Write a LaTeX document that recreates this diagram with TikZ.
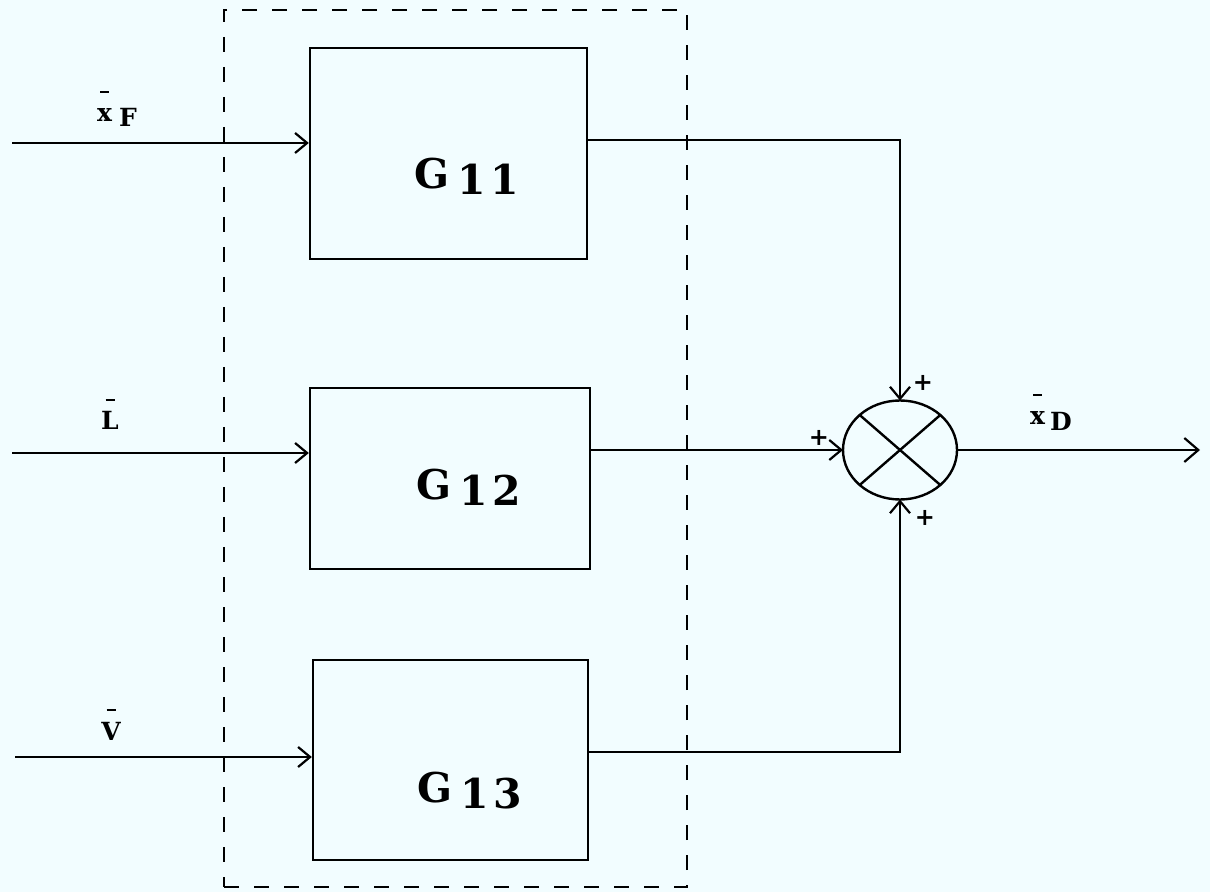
\documentclass[tikz,border=0pt]{standalone}
\usepackage{fontspec}
\newfontfamily\slab{DejaVu Serif}
\usetikzlibrary{arrows.meta,shapes.geometric}
\definecolor{paper}{RGB}{242,253,255}
% letter with a short bar over it
\newcommand\barred[1]{\setbox0\hbox{#1}\rlap{\hbox to \wd0{\hss\raisebox{14.5pt}{\rule{4.5pt}{1.1pt}}\hss}}\box0}
\begin{document}
\begin{tikzpicture}[x=0.5pt,y=-0.5pt,line width=1.1pt,
  blockbox/.style={draw,rectangle,line width=1.2pt,inner sep=0pt},
  gname/.style={font=\slab\bfseries\fontsize{20.5}{20.5}\selectfont,anchor=base,inner sep=0pt},
  sig/.style={font=\slab\bfseries\fontsize{12.5}{12.5}\selectfont,inner sep=0pt},
  sgn/.style={font=\slab\bfseries\fontsize{12}{12}\selectfont,inner sep=0pt},
  grp/.style={draw,rectangle,line width=0.8pt,dash pattern=on 7.5pt off 7.5pt,inner sep=0pt},
  summer/.style={draw,ellipse,line width=1.2pt,inner sep=0pt,outer sep=0pt,minimum width=57pt,minimum height=49.5pt},
  flow/.style={-{Straight Barb[length=6pt,width=10pt]},line width=1.1pt},
  outflow/.style={-{Straight Barb[length=7pt,width=12pt]},line width=1.1pt}]

\fill[paper] (0,0) rectangle (1210,892);
\useasboundingbox (0,0) rectangle (1210,892);

% dashed grouping frame
\node[grp,minimum width=231.5pt,minimum height=438.5pt] (frame) at (455.5,448.5) {};

% transfer blocks
\node[blockbox,minimum width=138.5pt,minimum height=105.5pt] (G11) at (448.5,153.5) {};
\node[blockbox,minimum width=140pt,minimum height=90.5pt] (G12) at (450,478.5) {};
\node[blockbox,minimum width=137.5pt,minimum height=100pt] (G13) at (450.5,760) {};

\node[gname] (t11) at (467,189) {G\kern4pt\raisebox{-3pt}{1\kern2pt1}};
\node[gname] (t12) at (469,500) {G\kern4pt\raisebox{-3pt}{1\kern2pt2}};
\node[gname] (t13) at (470,802) {G\kern4pt\raisebox{-3pt}{1\kern2pt3}};

% summing junction
\node[summer] (sum) at (900,450) {};
\draw[line width=1.2pt] (sum.north west) -- (sum.south east);
\draw[line width=1.2pt] (sum.north east) -- (sum.south west);

% inputs
\coordinate (inF) at (12,143);
\coordinate (inL) at (12,453);
\coordinate (inV) at (15,757);
\draw[flow] (inF) -- (inF -| G11.west);
\draw[flow] (inL) -- (inL -| G12.west);
\draw[flow] (inV) -- (inV -| G13.west);

\node[sig,anchor=base west] (xF) at (96,122) {\barred{x}\kern3.5pt\raisebox{-2.5pt}{F}};
\node[sig,anchor=base] (Lb) at (110,430) {\barred{L}};
\node[sig,anchor=base] (Vb) at (111,740) {\barred{V}};

% block outputs into the junction
\coordinate (c1) at (900,140);
\coordinate (c3) at (900,752);
\draw[flow] (c1 -| G11.east) -- (c1) -- (sum.north);
\draw[flow] (sum.west -| G12.east) -- (sum.west);
\draw[flow] (c3 -| G13.east) -- (c3) -- (sum.south);

\node[sgn] (p1) at (923,383) {+};
\node[sgn] (p2) at (819,438) {+};
\node[sgn] (p3) at (925,518) {+};

% output
\coordinate (out) at (1200,450);
\draw[outflow] (sum.east) -- (out);
\node[sig,anchor=base west] (xD) at (1029,425) {\barred{x}\kern2.5pt\raisebox{-3pt}{D}};
\end{tikzpicture}
\end{document}
